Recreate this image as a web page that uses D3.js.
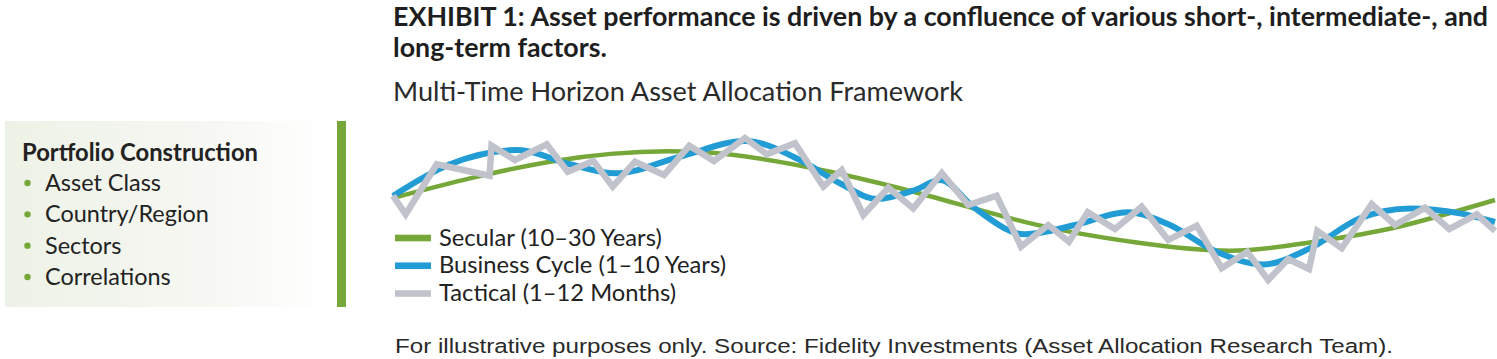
<!DOCTYPE html>
<html>
<head>
<meta charset="utf-8">
<script src="https://cdn.jsdelivr.net/npm/d3@7"></script>
<style>
  html, body { margin: 0; padding: 0; background: #fff; }
  svg { display: block; }
</style>
</head>
<body>
<svg id="chart" width="1497" height="359"></svg>
<script>
// ---------- DATA ----------
const titleLines = ["EXHIBIT 1: Asset performance is driven by a confluence of various short-, intermediate-, and", "long-term factors."];
const subtitle = "Multi-Time Horizon Asset Allocation Framework";
const footer = "For illustrative purposes only. Source: Fidelity Investments (Asset Allocation Research Team).";
const boxHeading = "Portfolio Construction";
const boxItems = ["Asset Class", "Country/Region", "Sectors", "Correlations"];
const seriesNames = ["Secular (10–30 Years)", "Business Cycle (1–10 Years)", "Tactical (1–12 Months)"];
const seriesColors = ["#76a739", "#229cd4", "#c0c3cb"];

// Secular (long-term) trend
const secularT = [0, 14.25, 27.86, 39.66, 48.73, 58.26, 67.33, 76, 83.2, 90.74, 100];
const secularV = [5.75, 8.02, 8.62, 7.39, 5.86, 4.1, 2.98, 2.45, 2.97, 3.875, 5.625];

// Business cycle
const cycleT = [0, 5.17, 11.34, 16.06, 20.15, 26.04, 31.94, 36.93, 40.56, 43.92, 47.37, 49.64, 52.81, 57.35, 61.89, 66.61, 70.51, 74.4, 78.95, 83.2, 87.75, 92.29, 96.82, 100];
const cycleV = [5.88, 7.86, 8.75, 7.86, 7.29, 8.33, 9.31, 8.125, 6.67, 5.69, 6.25, 6.875, 5.1, 3.48, 4.06, 4.86, 4.06, 2.5, 1.6, 2.6, 4.48, 5.1, 4.79, 4.25];

// Tactical
const tacticalT = [0, 1.15, 3.97, 8.76, 8.94, 11.07, 13.95, 15.85, 18.18, 19.94, 21.96, 24.6, 26.89, 29.13, 31.94, 33.91, 36.48, 39.05, 40.72, 42.68, 44.95, 47.21, 49.8, 52.2, 54.78, 56.99, 59.46, 61.34, 63.04, 65.52, 67.94, 70.35, 72.93, 75.2, 77.52, 79.42, 81.24, 83.12, 83.88, 86.09, 88.81, 90.93, 93.65, 95.85, 98.34, 100];
const tacticalV = [5.89, 4.73, 7.86, 7.14, 9.02, 8.125, 9.11, 7.39, 8.06, 6.46, 8.02, 7.19, 9.02, 8.06, 9.5, 8.48, 9.17, 6.46, 7.5, 4.69, 6.39, 5.1, 7.31, 5.31, 5.89, 2.71, 4.06, 3.02, 4.86, 3.81, 5.21, 3.125, 4.02, 1.36, 2.39, 0.625, 1.94, 1.31, 3.69, 2.61, 5.36, 4.06, 5.14, 3.81, 4.73, 3.69];

// ---------- DRAW ----------
const svg = d3.select("#chart");
const FONT = "Lato, 'Noto Sans', sans-serif";

function fit(sel, target) {
  const w = sel.node().getComputedTextLength();
  const fs = parseFloat(sel.attr("font-size"));
  sel.attr("font-size", (fs * target / w).toFixed(2));
  return +sel.attr("font-size");
}

// Title
const t1 = svg.append("text").attr("x", 393).attr("y", 26)
  .attr("font-family", FONT).attr("font-weight", 700).attr("font-size", 20)
  .attr("fill", "#1e1e1e").text(titleLines[0]);
const tfs = fit(t1, 1095);
svg.append("text").attr("x", 393).attr("y", 57)
  .attr("font-family", FONT).attr("font-weight", 700).attr("font-size", tfs)
  .attr("fill", "#1e1e1e").text(titleLines[1]);

const st = svg.append("text").attr("x", 393).attr("y", 101)
  .attr("font-family", FONT).attr("font-weight", 400).attr("font-size", 20)
  .attr("fill", "#2a2a2a").text(subtitle);
fit(st, 570);

// Left box
const defs = svg.append("defs");
const grad = defs.append("linearGradient").attr("id", "boxgrad").attr("x1", "0").attr("x2", "1").attr("y1", "0").attr("y2", "0");
grad.append("stop").attr("offset", "0").attr("stop-color", "#edf2e6");
grad.append("stop").attr("offset", "0.6").attr("stop-color", "#f6f7f2");
grad.append("stop").attr("offset", "1").attr("stop-color", "#ffffff");
svg.append("rect").attr("x", 5).attr("y", 121).attr("width", 325).attr("height", 186).attr("fill", "url(#boxgrad)");
svg.append("rect").attr("x", 337).attr("y", 121).attr("width", 9).attr("height", 186).attr("fill", seriesColors[0]);

const bh = svg.append("text").attr("x", 22).attr("y", 161)
  .attr("font-family", FONT).attr("font-weight", 700).attr("font-size", 20)
  .attr("fill", "#222").text(boxHeading);
fit(bh, 236);

const itemY = d3.scalePoint().domain(boxItems).range([191, 285]);
const itemG = svg.append("g");
const itemTexts = itemG.selectAll("text").data(boxItems).join("text")
  .attr("x", 45).attr("y", d => itemY(d))
  .attr("font-family", FONT).attr("font-weight", 400).attr("font-size", 20)
  .attr("fill", "#222").text(d => d);
const ifs = fit(itemTexts.filter(d => d === "Country/Region"), 164);
itemTexts.attr("font-size", ifs);
itemG.selectAll("circle").data(boxItems).join("circle")
  .attr("cx", 27.5).attr("cy", d => itemY(d) - 8).attr("r", 3.2).attr("fill", seriesColors[0]);

// Chart
const x = d3.scaleLinear().domain([0, 100]).range([393, 1495]);
const y = d3.scaleLinear().domain([0, 10]).range([290, 130]);

const natural = d3.line().x(d => x(d[0])).y(d => y(d[1])).curve(d3.curveNatural);
const smooth = d3.line().x(d => x(d[0])).y(d => y(d[1])).curve(d3.curveMonotoneX);
const straight = d3.line().x(d => x(d[0])).y(d => y(d[1]));

const secular = secularT.map((t, i) => [t, secularV[i]]);
const cycle = cycleT.map((t, i) => [t, cycleV[i]]);
const tactical = tacticalT.map((t, i) => [t, tacticalV[i]]);

const plot = svg.append("g");
plot.append("path").attr("d", natural(secular)).attr("fill", "none")
  .attr("stroke", seriesColors[0]).attr("stroke-width", 4.5);
plot.append("path").attr("d", smooth(cycle)).attr("fill", "none")
  .attr("stroke", seriesColors[1]).attr("stroke-width", 6);
plot.append("path").attr("d", straight(tactical)).attr("fill", "none")
  .attr("stroke", seriesColors[2]).attr("stroke-width", 6.5)
  .attr("stroke-linejoin", "miter").attr("stroke-miterlimit", 10);

// Legend
const legY = d3.scalePoint().domain(seriesNames).range([238, 293.5]);
const leg = svg.append("g");
leg.selectAll("rect").data(seriesNames).join("rect")
  .attr("x", 395).attr("y", d => legY(d) - 3.3).attr("width", 36).attr("height", 6.6)
  .attr("fill", (d, i) => seriesColors[i]);
const legTexts = leg.selectAll("text").data(seriesNames).join("text")
  .attr("x", 439).attr("y", d => legY(d) + 7.5)
  .attr("font-family", FONT).attr("font-weight", 400).attr("font-size", 20)
  .attr("fill", "#222").text(d => d);
const lfs = fit(legTexts.filter((d, i) => i === 1), 287);
legTexts.attr("font-size", lfs);

// Footer (condensed look)
svg.append("text").attr("x", 395).attr("y", 353)
  .attr("font-family", "'Liberation Sans Narrow', 'Arial Narrow', 'Liberation Sans', sans-serif")
  .attr("font-size", 20.5).attr("fill", "#2a2a2a")
  .attr("textLength", 998).attr("lengthAdjust", "spacingAndGlyphs")
  .text(footer);
</script>
</body>
</html>
